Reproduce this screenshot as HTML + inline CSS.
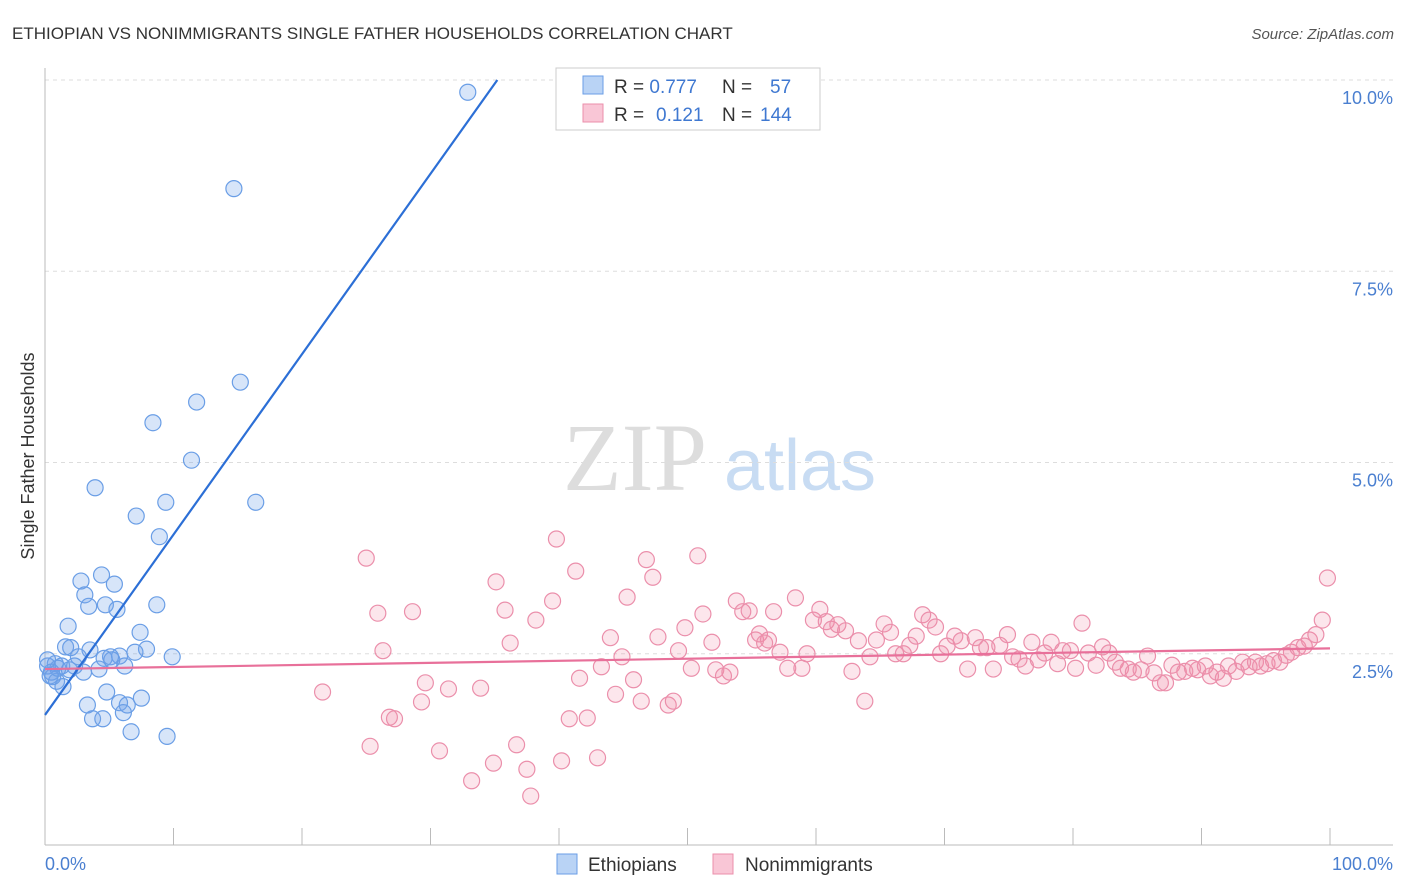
<!DOCTYPE html>
<html><head><meta charset="utf-8"><style>
body{margin:0;background:#fff;font-family:"Liberation Sans",sans-serif;}
svg{display:block}
</style></head><body>
<svg width="1406" height="892" viewBox="0 0 1406 892">
<text x="12" y="39" font-size="17" fill="#333">ETHIOPIAN VS NONIMMIGRANTS SINGLE FATHER HOUSEHOLDS CORRELATION CHART</text>
<text x="1394" y="39" font-size="15" fill="#555" font-style="italic" text-anchor="end">Source: ZipAtlas.com</text>
<text x="34" y="456" font-size="18" fill="#333" text-anchor="middle" transform="rotate(-90 34 456)">Single Father Households</text>
<g>
<text x="635" y="490" font-size="96" fill="#ddd" font-family="Liberation Serif,serif" text-anchor="middle">ZIP</text>
<text x="800" y="490" font-size="72" fill="#c8dcf3" text-anchor="middle">atlas</text>
</g>
<g id="grid"></g>
<g id="axes"></g>
<g id="pts"></g>
<g id="lines"></g>
<g>
<rect x="556" y="68" width="264" height="62" fill="#fff" stroke="#ccc"/>
<rect x="583" y="76" width="20" height="18" fill="#b9d3f5" stroke="#6a9ee6"/>
<rect x="583" y="104" width="20" height="18" fill="#f9c6d6" stroke="#eb8fab"/>
<text x="614" y="93" font-size="19" fill="#333">R = <tspan fill="#3f78d1">0.777</tspan><tspan x="722">N = </tspan><tspan x="770" fill="#3f78d1">57</tspan></text>
<text x="614" y="121" font-size="19" fill="#333">R = <tspan x="656" fill="#3f78d1">0.121</tspan><tspan x="722">N = </tspan><tspan x="760" fill="#3f78d1">144</tspan></text>
</g>
<g>
<rect x="557" y="854" width="20" height="20" fill="#b9d3f5" stroke="#6a9ee6"/>
<text x="588" y="871" font-size="19" fill="#333">Ethiopians</text>
<rect x="713" y="854" width="20" height="20" fill="#f9c6d6" stroke="#eb8fab"/>
<text x="745" y="871" font-size="19" fill="#333">Nonimmigrants</text>
</g>
</svg>
<script>
const yTicks=[2.5,5.0,7.5,10.0];
const yTickLabels=["2.5%","5.0%","7.5%","10.0%"];
const xTicks=[10,20,30,40,50,60,70,80,90,100];
const blueX=[32.9,14.7,15.2,11.8,8.4,11.4,3.9,9.4,16.4,7.1,8.9,2.8,4.4,5.4,3.1,3.4,4.7,5.6,8.7,1.8,7.4,1.6,3.5,2.0,7.9,7.0,5.8,5.1,4.6,2.6,9.9,0.8,0.2,1.3,2.3,4.2,6.2,3.0,0.4,0.9,1.4,4.8,7.5,3.3,5.8,6.4,6.1,3.7,4.5,6.7,9.5,0.5,1.0,0.2,1.9,5.2,0.6];
const blueY=[9.84,8.58,6.05,5.79,5.52,5.03,4.67,4.48,4.48,4.30,4.03,3.45,3.53,3.41,3.27,3.12,3.14,3.08,3.14,2.86,2.78,2.59,2.55,2.58,2.56,2.52,2.47,2.46,2.44,2.46,2.46,2.37,2.34,2.34,2.34,2.30,2.34,2.26,2.21,2.14,2.07,2.00,1.92,1.83,1.86,1.83,1.73,1.65,1.65,1.48,1.42,2.26,2.31,2.42,2.29,2.42,2.2];
const pinkX=[21.6,25.0,25.3,25.9,26.3,26.8,27.2,28.6,29.3,29.6,30.7,31.4,33.2,33.9,34.9,35.1,35.8,36.2,36.7,37.5,37.8,38.2,39.5,39.8,40.2,40.8,41.3,41.6,42.2,43.0,43.3,44.0,44.4,44.9,45.3,45.8,46.4,46.8,47.3,47.7,48.5,48.9,49.3,49.8,50.3,50.8,51.2,51.9,52.2,52.8,53.3,53.8,54.3,54.8,55.3,55.6,56.0,56.3,56.7,57.2,57.8,58.4,58.9,59.3,59.8,60.3,60.8,61.2,61.7,62.3,62.8,63.3,63.8,64.2,64.7,65.3,65.8,66.2,66.8,67.3,67.8,68.3,68.8,69.3,69.7,70.2,70.8,71.3,71.8,72.4,72.8,73.3,73.8,74.3,74.9,75.3,75.8,76.3,76.8,77.3,77.8,78.3,78.8,79.2,79.8,80.2,80.7,81.2,81.8,82.3,82.8,83.3,83.7,84.3,84.7,85.3,85.8,86.3,86.8,87.2,87.7,88.2,88.7,89.3,89.7,90.3,90.7,91.2,91.7,92.1,92.7,93.2,93.7,94.2,94.6,95.1,95.6,96.1,96.6,97.0,97.5,98.0,98.4,98.9,99.4,99.8];
const pinkY=[2.00,3.75,1.29,3.03,2.54,1.67,1.65,3.05,1.87,2.12,1.23,2.04,0.84,2.05,1.07,3.44,3.07,2.64,1.31,0.99,0.64,2.94,3.19,4.00,1.10,1.65,3.58,2.18,1.66,1.14,2.33,2.71,1.97,2.46,3.24,2.16,1.88,3.73,3.50,2.72,1.83,1.88,2.54,2.84,2.31,3.78,3.02,2.65,2.29,2.21,2.26,3.19,3.05,3.06,2.68,2.76,2.64,2.68,3.05,2.52,2.31,3.23,2.31,2.50,2.94,3.08,2.92,2.82,2.88,2.80,2.27,2.67,1.88,2.46,2.68,2.89,2.78,2.50,2.50,2.61,2.73,3.01,2.94,2.85,2.50,2.60,2.73,2.67,2.30,2.71,2.58,2.58,2.30,2.61,2.75,2.46,2.43,2.34,2.65,2.42,2.51,2.65,2.37,2.54,2.54,2.31,2.90,2.51,2.35,2.59,2.51,2.39,2.31,2.30,2.26,2.29,2.47,2.25,2.12,2.12,2.35,2.26,2.27,2.31,2.29,2.34,2.21,2.26,2.18,2.34,2.27,2.39,2.33,2.39,2.34,2.37,2.41,2.39,2.48,2.52,2.58,2.60,2.68,2.75,2.94,3.49];
const blueLine=[[0,1.70],[35.2,10.0]];
const pinkLine=[[0,2.30],[100,2.57]];
const NS="http://www.w3.org/2000/svg";
const X0=45,X1=1330,YB=845,YT=80;
function sx(v){return X0+(X1-X0)*v/100;}
function sy(v){return YB-(YB-YT)*v/10;}
function mk(tag,attrs,parent){const e=document.createElementNS(NS,tag);for(const k in attrs)e.setAttribute(k,attrs[k]);parent.appendChild(e);return e;}
const grid=document.getElementById('grid'),axes=document.getElementById('axes'),pts=document.getElementById('pts'),lines=document.getElementById('lines');
yTicks.forEach((t,i)=>{
 const l=mk('line',{x1:X0,x2:1393,y1:sy(t),y2:sy(t),stroke:'#ddd','stroke-dasharray':'4,4'},grid);
 
 
 const tx=mk('text',{x:1393,y:sy(t)+24,'font-size':18,fill:'#4a7fd0','text-anchor':'end'},axes);
 tx.textContent=yTickLabels[i];
 
 
});
const ax=mk('line',{x1:X0,x2:1393,y1:YB,y2:YB,stroke:'#bbb'},axes);


const ay=mk('line',{x1:X0,x2:X0,y1:68,y2:YB,stroke:'#bbb'},axes);


xTicks.forEach(t=>{
 const k=mk('line',{x1:sx(t),x2:sx(t),y1:828,y2:YB,stroke:'#bbb'},axes);
 
 
});
const xl0=mk('text',{x:45,y:870,'font-size':18,fill:'#4a7fd0'},axes);xl0.textContent='0.0%';


const xl1=mk('text',{x:1393,y:870,'font-size':18,fill:'#4a7fd0','text-anchor':'end'},axes);xl1.textContent='100.0%';


pinkX.forEach((v,i)=>{
 const c=mk('circle',{cx:sx(v),cy:sy(pinkY[i]),r:8,fill:'rgba(240,140,170,0.22)',stroke:'#eb8fab','stroke-width':1.2},pts);
 
 
});
blueX.forEach((v,i)=>{
 const c=mk('circle',{cx:sx(v),cy:sy(blueY[i]),r:8,fill:'rgba(110,160,235,0.28)',stroke:'#6a9ee6','stroke-width':1.2},pts);
 
 
});
const bl=mk('line',{x1:sx(blueLine[0][0]),y1:sy(blueLine[0][1]),x2:sx(blueLine[1][0]),y2:sy(blueLine[1][1]),stroke:'#2c6fd6','stroke-width':2.2},lines);


const pl=mk('line',{x1:sx(pinkLine[0][0]),y1:sy(pinkLine[0][1]),x2:sx(pinkLine[1][0]),y2:sy(pinkLine[1][1]),stroke:'#e8709a','stroke-width':2.2},lines);


</script>
</body></html>
